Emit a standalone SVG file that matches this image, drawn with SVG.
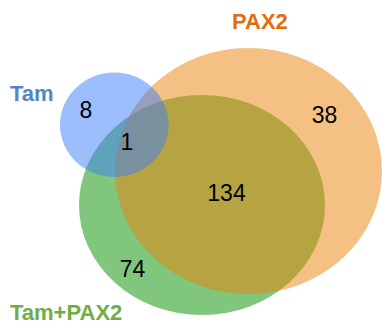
<svg xmlns="http://www.w3.org/2000/svg" width="382" height="324" viewBox="0 0 382 324">
<style>
.lbl{font-family:"Liberation Sans",Arial,sans-serif;font-weight:bold;font-size:22px}
.num{font-family:"Liberation Sans",Arial,sans-serif;font-size:23px;fill:#000;text-anchor:middle}
</style>
<rect width="382" height="324" fill="#fff"/>
<g id="set-tam-pax2"><ellipse cx="202" cy="205" rx="123" ry="110" fill="#80C77D"/></g>
<g id="set-pax2"><ellipse cx="248.5" cy="171" rx="133.5" ry="123" fill="rgb(235,129,7)" fill-opacity="0.5"/></g>
<g id="set-tam"><ellipse cx="114.3" cy="124.8" rx="54.3" ry="52.2" fill="rgb(59,125,249)" fill-opacity="0.5"/></g>
<g id="labels">
<text class="lbl" x="10" y="101" fill="#5585C5">Tam</text>
<text class="lbl" x="232" y="29" fill="#E46C0A">PAX2</text>
<text class="lbl" x="10" y="320" fill="#70AD47">Tam+PAX2</text>
</g>
<g id="counts">
<text class="num" x="86" y="118">8</text>
<text class="num" x="127" y="150">1</text>
<text class="num" x="324.5" y="123">38</text>
<text class="num" x="226.5" y="201">134</text>
<text class="num" x="132.5" y="277">74</text>
</g>
</svg>
